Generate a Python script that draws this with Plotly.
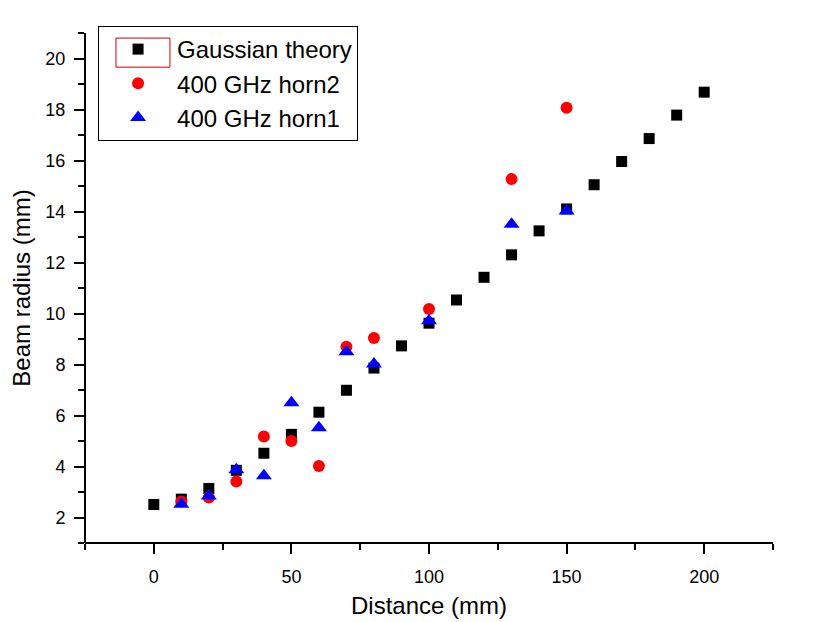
import plotly.graph_objects as go

# Distance (mm)
gauss_x = [0, 10, 20, 30, 40, 50, 60, 70, 80, 90, 100, 110, 120, 130, 140, 150, 160, 170, 180, 190, 200]
gauss_y = [2.51, 2.72, 3.14, 3.85, 4.52, 5.26, 6.13, 6.99, 7.86, 8.73, 9.62, 10.53, 11.42, 12.3, 13.24, 14.1, 15.05, 15.96, 16.86, 17.78, 18.68]

horn2_x = [10, 20, 30, 40, 50, 60, 70, 80, 100, 130, 150]
horn2_y = [2.63, 2.78, 3.41, 5.18, 5.0, 4.02, 8.7, 9.04, 10.18, 15.27, 18.07]

horn1_x = [10, 20, 30, 40, 50, 60, 70, 80, 100, 130, 150]
horn1_y = [2.52, 2.84, 3.87, 3.64, 6.5, 5.52, 8.5, 8.02, 9.72, 13.5, 14.02]

fig = go.Figure()
fig.add_trace(go.Scatter(x=gauss_x, y=gauss_y, mode="markers", name="Gaussian theory",
                         marker=dict(symbol="square", size=11, color="black")))
fig.add_trace(go.Scatter(x=horn2_x, y=horn2_y, mode="markers", name="400 GHz horn2",
                         marker=dict(symbol="circle", size=12, color="#ff0000")))
fig.add_trace(go.Scatter(x=horn1_x, y=horn1_y, mode="markers", name="400 GHz horn1",
                         marker=dict(symbol="triangle-up", size=14, color="#0000ff")))

fig.update_layout(
    width=818, height=614,
    margin=dict(l=77, r=53, t=25, b=79),
    paper_bgcolor="white", plot_bgcolor="white",
    font=dict(family="Liberation Sans, Arial, sans-serif", size=18, color="black"),
    showlegend=True,
    legend=dict(x=0.019, y=1.0137, xanchor="left", yanchor="top",
                bordercolor="black", borderwidth=1, bgcolor="rgba(0,0,0,0)",
                font=dict(size=24), itemwidth=68, tracegroupgap=0),
    shapes=[
        dict(type="rect", xref="paper", yref="paper",
             x0=0.045, x1=0.1235, y0=0.933, y1=0.990,
             line=dict(color="#cc0000", width=1), layer="above"),
        dict(type="line", xref="paper", yref="paper", x0=0, x1=0, y0=0, y1=1,
             line=dict(color="black", width=2), layer="above"),
        dict(type="line", xref="paper", yref="paper", x0=0, x1=1, y0=0, y1=0,
             line=dict(color="black", width=2), layer="above"),
    ],
)
fig.update_xaxes(range=[-25, 225], showline=False,
                 showgrid=False, zeroline=False, automargin=False,
                 tickmode="array", tickvals=[0, 50, 100, 150, 200],
                 ticks="outside", ticklen=10, tickwidth=2, tickcolor="black", ticklabelstandoff=7,
                 minor=dict(tickvals=[-25, 25, 75, 125, 175, 225], ticks="outside", ticklen=6, tickcolor="black", tickwidth=2),
                 title=dict(text="Distance (mm)", font=dict(size=24), standoff=11),
                 tickfont=dict(size=18))
fig.update_yaxes(range=[1, 21], showline=False,
                 showgrid=False, zeroline=False, automargin=False,
                 tickmode="array", tickvals=[2, 4, 6, 8, 10, 12, 14, 16, 18, 20],
                 ticks="outside", ticklen=10, tickwidth=2, tickcolor="black", ticklabelstandoff=5,
                 minor=dict(tickvals=[1, 3, 5, 7, 9, 11, 13, 15, 17, 19, 21], ticks="outside", ticklen=6, tickcolor="black", tickwidth=2),
                 title=dict(text="Beam radius (mm)", font=dict(size=24), standoff=7),
                 tickfont=dict(size=18))

fig.write_html("out.html")
